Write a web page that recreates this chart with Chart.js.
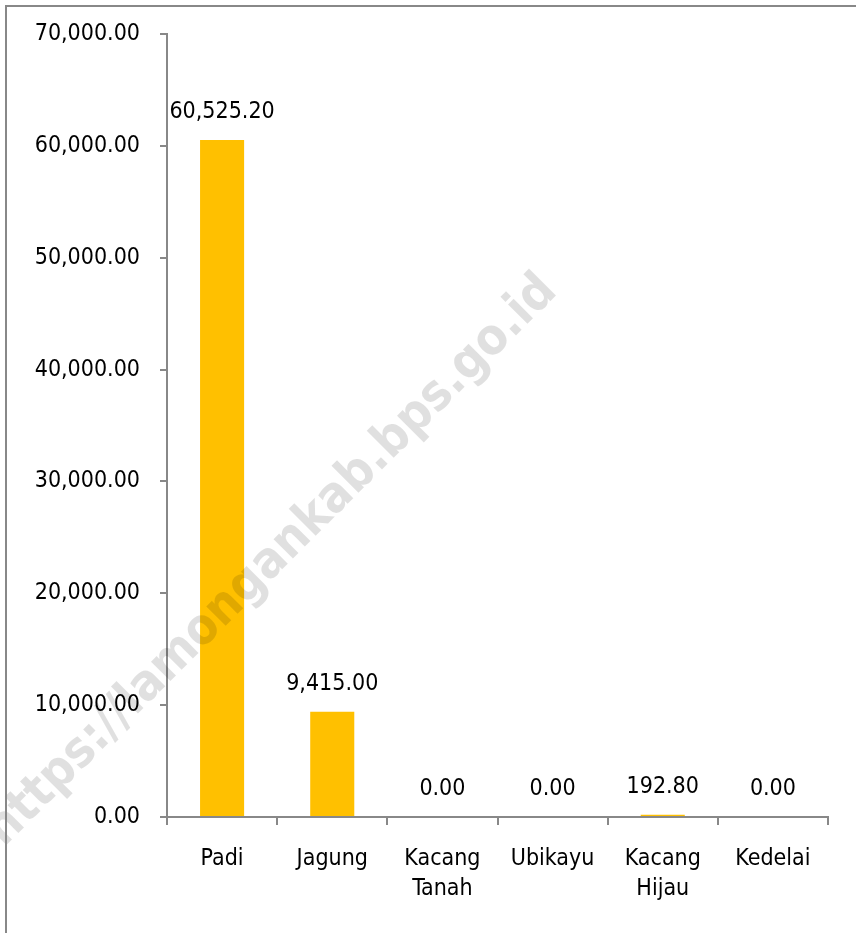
<!DOCTYPE html>
<html>
<head>
<meta charset="utf-8">
<script src="https://cdn.jsdelivr.net/npm/chart.js@4/dist/chart.umd.min.js"></script>
<style>
  html, body { margin: 0; padding: 0; background: #fff; }
  #wrap { width: 856px; height: 933px; position: relative; }
</style>
</head>
<body>
<div id="wrap"><canvas id="c" width="856" height="933"></canvas></div>
<script>
const categories = [["Padi"], ["Jagung"], ["Kacang", "Tanah"], ["Ubikayu"], ["Kacang", "Hijau"], ["Kedelai"]];
const values = [60525.20, 9415.00, 0.00, 0.00, 192.80, 0.00];
const yTicks = [0, 10000, 20000, 30000, 40000, 50000, 60000, 70000];
const watermarkText = "https://lamongankab.bps.go.id";

const FONT = "'DejaVu Sans Condensed', 'DejaVu Sans', sans-serif";
const WM_FONT = "'DejaVu Sans Condensed', 'DejaVu Sans', sans-serif";
const AXIS_GRAY = "#888888";
const fmt = v => v.toLocaleString("en-US", { minimumFractionDigits: 2, maximumFractionDigits: 2 });

const frame = {
  id: "frame",
  beforeDraw(chart) {
    const ctx = chart.ctx;
    ctx.save();
    ctx.fillStyle = "#fff";
    ctx.fillRect(0, 0, chart.width, chart.height);
    ctx.restore();
  },
  afterDraw(chart) {
    const ctx = chart.ctx;
    ctx.save();
    ctx.fillStyle = "rgba(0,0,0,0.12)";
    ctx.font = "bold 100px " + WM_FONT;
    const w100 = ctx.measureText(watermarkText).width;
    const size = 100 * 785 / w100;
    ctx.font = "bold " + size + "px " + WM_FONT;
    ctx.translate(272, 561);
    ctx.rotate(-Math.PI / 4);
    ctx.textAlign = "center";
    ctx.textBaseline = "middle";
    ctx.fillText(watermarkText, 0, 0);
    ctx.restore();
    ctx.save();
    ctx.strokeStyle = AXIS_GRAY;
    ctx.lineWidth = 2;
    ctx.beginPath();
    ctx.moveTo(6, chart.height + 5);
    ctx.lineTo(6, 6);
    ctx.lineTo(chart.width + 5, 6);
    ctx.stroke();
    ctx.restore();
  }
};

const valueLabels = {
  id: "valueLabels",
  afterDatasetsDraw(chart) {
    const ctx = chart.ctx;
    const meta = chart.getDatasetMeta(0);
    ctx.save();
    ctx.fillStyle = "#000";
    ctx.font = "23px " + FONT;
    ctx.textAlign = "center";
    ctx.textBaseline = "middle";
    meta.data.forEach((bar, i) => {
      ctx.fillText(fmt(chart.data.datasets[0].data[i]), bar.x, bar.y - 28);
    });
    ctx.restore();
  }
};

new Chart(document.getElementById("c"), {
  type: "bar",
  data: {
    labels: categories,
    datasets: [{
      data: values,
      backgroundColor: "#FFC000",
      borderWidth: 0,
      barPercentage: 0.4,
      categoryPercentage: 1.0
    }]
  },
  options: {
    responsive: false,
    devicePixelRatio: 1,
    animation: false,
    layout: { padding: { top: 34, right: 28, left: 0, bottom: 0 } },
    plugins: { legend: { display: false }, tooltip: { enabled: false } },
    scales: {
      x: {
        grid: { display: true, drawOnChartArea: false, drawTicks: true, tickLength: 8, color: AXIS_GRAY, lineWidth: 2, offset: true },
        border: { display: true, color: AXIS_GRAY, width: 2 },
        ticks: { color: "#000", font: { family: FONT, size: 23, lineHeight: 1.3 }, padding: 19, maxRotation: 0, autoSkip: false },
        afterFit(scale) { scale.height = 933 - 817; }
      },
      y: {
        min: 0,
        max: 70000,
        afterBuildTicks(scale) { scale.ticks = yTicks.map(v => ({ value: v })); },
        grid: { display: true, drawOnChartArea: false, drawTicks: true, tickLength: 7, color: AXIS_GRAY, lineWidth: 2 },
        border: { display: true, color: AXIS_GRAY, width: 2 },
        ticks: { color: "#000", font: { family: FONT, size: 23 }, padding: 20, callback: v => fmt(v) },
        afterFit(scale) { scale.width = 167; }
      }
    }
  },
  plugins: [frame, valueLabels]
});
</script>
</body>
</html>
